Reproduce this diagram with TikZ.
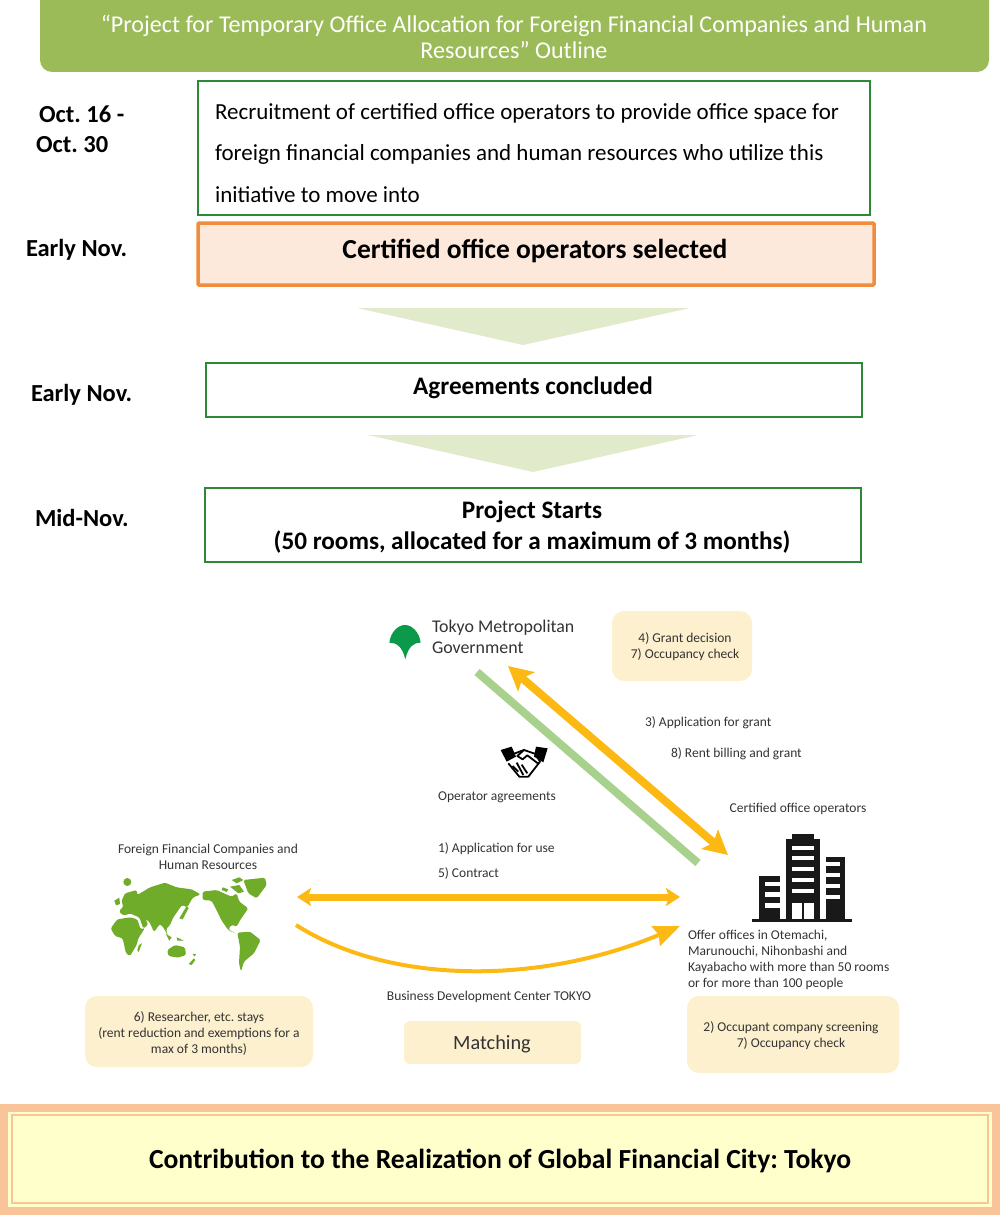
\documentclass[tikz,border=0pt]{standalone}
\usepackage{fontspec}
\setmainfont{Carlito}
\usetikzlibrary{arrows.meta}
\definecolor{titlegreen}{HTML}{9BBB59}
\definecolor{boxgreen}{HTML}{2A8A35}
\definecolor{boxorange}{HTML}{F08C3C}
\definecolor{fillorange}{HTML}{FCE9DC}
\definecolor{fillcream}{HTML}{FDF0CF}
\definecolor{arrowgold}{HTML}{FDB913}
\definecolor{linegreen}{HTML}{A9D18E}
\definecolor{downgreen}{HTML}{E2EACC}
\definecolor{mapgreen}{HTML}{6FAC2A}
\definecolor{leafgreen}{HTML}{0B9A4A}
\definecolor{txtgrey}{HTML}{333333}
\definecolor{outerpeach}{HTML}{F9C49A}
\definecolor{innerlemon}{HTML}{FFFFCC}
\frenchspacing
\begin{document}
\begin{tikzpicture}[x=1pt,y=-1pt]
\tikzset{ >=latex, inner sep=0pt, outer sep=0pt,
  greenbox/.style={draw=boxgreen, line width=1.1pt},
  creambox/.style={fill=fillcream, rounded corners=12pt},
  datetxt/.style={font=\fontsize{24.5}{31}\selectfont\bfseries, anchor=west, align=left},
  headtxt/.style={font=\fontsize{25.2}{31}\selectfont\bfseries, align=center},
  smalltxt/.style={font=\fontsize{13.5}{16}\selectfont, text=txtgrey, align=center},
  goldarrow/.style={draw=arrowgold, line width=8pt},
}
\useasboundingbox (0,0) rectangle (1000,1215);

%%% Blocos

% Title
\fill[titlegreen, rounded corners=12pt] (40,-14) rectangle (989,72);
\node[font=\fontsize{24.1}{26}\selectfont, text=white, align=center] (title) at (514,37)
  {``Project for Temporary Office Allocation for Foreign Financial Companies and Human\\Resources'' Outline};

% Recruitment
\draw[greenbox] (198,81) rectangle (870,215);
\node[font=\fontsize{23}{41.5}\selectfont, anchor=west, align=left] (recruit) at (215,153)
  {Recruitment of certified office operators to provide office space for\\
   foreign financial companies and human resources who utilize this\\
   initiative to move into};
\node[datetxt] (date1a) at (39,114) {Oct. 16 -};
\node[datetxt] (date1b) at (36,145) {Oct. 30};

% Selected
\draw[draw=boxorange, fill=fillorange, line width=3.5pt, rounded corners=1pt] (198,223) rectangle (874,285);
\node[font=\fontsize{27.5}{30}\selectfont\bfseries] (selected) at (535,251) {Certified office operators selected};
\node[datetxt] (date2) at (26,250) {Early Nov.};

\fill[downgreen] (357,308) -- (690,308) -- (523,345) -- cycle;

% Agreements
\draw[greenbox] (206,363) rectangle (862,417);
\node[headtxt] (agreed) at (533,388) {Agreements concluded};
\node[datetxt] (date3) at (31,395) {Early Nov.};

\fill[downgreen] (368,435) -- (698,435) -- (533,472) -- cycle;

% Start
\draw[greenbox] (205,488) rectangle (861,562);
\node[headtxt] (start) at (532,527) {Project Starts\\(50 rooms, allocated for a maximum of 3 months)};
\node[datetxt] (date4) at (35,518) {Mid-Nov.};

%%% Esquema

% Tokyo
\begin{scope}[shift={(370,600)},x=0.3333pt,y=-0.3333pt]
\fill[leafgreen] (58,128) .. controls (62,95) and (85,75) .. (105,75)
  .. controls (125,75) and (148,95) .. (152,128)
  .. controls (130,128) and (115,140) .. (106,178)
  .. controls (97,140) and (80,128) .. (58,128) -- cycle;
\end{scope}
\node[font=\fontsize{17.9}{21}\selectfont, text=txtgrey, anchor=west, align=left] (tokyo) at (432,637)
  {Tokyo Metropolitan\\Government};
\fill[creambox] (612,611) rectangle (752,681);
\node[smalltxt] (tokyochk) at (685,647) {4) Grant decision\\7) Occupancy check};

% Handshake
\begin{scope}[shift={(370,600)},x=0.3333pt,y=-0.3333pt]
\fill[black] (392,450) -- (425,440) -- (438,470) -- (410,485) -- cycle;
\fill[black] (498,440) -- (533,445) -- (520,487) -- (492,470) -- cycle;
\draw[line width=1.8pt, line join=round] (430,462) -- (462,450) -- (497,462) -- (510,485) -- (475,530) -- (448,530) -- (415,490);
\draw[line width=1.8pt, line join=round] (462,450) -- (442,468) -- (458,478) -- (472,466) -- (506,492);
\draw[line width=1.8pt] (428,498) -- (445,515) (440,488) -- (460,525) (455,494) -- (472,520);
\end{scope}
\node[smalltxt] (operagr) at (497,797) {Operator agreements};

% Labels
\node[smalltxt, anchor=west] (grant) at (645,723) {3) Application for grant};
\node[smalltxt, anchor=west] (billing) at (671,754) {8) Rent billing and grant};
\node[smalltxt] (certops) at (798,809) {Certified office operators};
\node[smalltxt, anchor=west] (useapp) at (438,849) {1) Application for use};
\node[smalltxt, anchor=west] (contract) at (438,873) {5) Contract};

% Building
\begin{scope}[shift={(660,820)},x=0.3333pt,y=-0.3333pt]
\fill[black!90] (277,296) rectangle (575,305);
\fill[black!90] (378,58) rectangle (480,296);
\fill[black!90] (395,43) rectangle (462,58);
\fill[black!90] (297,168) rectangle (360,296);
\fill[black!90] (497,110) rectangle (555,296);
\foreach \ya in {77,108,140,174,207} {
  \fill[white] (395,\ya) rectangle (462,\ya+13);
}
\fill[white] (395,250) rectangle (425,296);
\fill[white] (433,250) rectangle (463,296);
\foreach \ya in {185,217,250} {
  \fill[white] (315,\ya) rectangle (360,\ya+14);
}
\foreach \ya in {127,160,193,225} {
  \fill[white] (497,\ya) rectangle (540,\ya+12);
}
\end{scope}
\node[font=\fontsize{13.5}{16}\selectfont, text=txtgrey, anchor=west, align=left] (offer) at (688,960)
  {Offer offices in Otemachi,\\Marunouchi, Nihonbashi and\\Kayabacho with more than 50 rooms\\or for more than 100 people};
\fill[creambox] (687,996) rectangle (899,1073);
\node[smalltxt] (opchk) at (791,1036) {2) Occupant company screening\\7) Occupancy check};

% World
\node[smalltxt] (foreign) at (208,857) {Foreign Financial Companies and\\Human Resources};
\begin{scope}[shift={(80,830)},x=0.3333pt,y=-0.3333pt]
% Eurasia
\fill[mapgreen, rounded corners=1.5pt] (118,240) -- (130,232) -- (125,212) -- (135,190) -- (170,180) -- (172,195)
  -- (210,172) -- (255,158) -- (290,172) -- (335,178) -- (362,193) -- (338,203) -- (322,232) -- (306,225)
  -- (292,245) -- (280,262) -- (270,285) -- (258,298) -- (264,318) -- (250,292) -- (240,282) -- (222,306)
  -- (208,275) -- (196,268) -- (205,283) -- (190,296) -- (178,262) -- (168,258) -- (150,250) -- (135,256)
  -- (122,252) -- cycle;
% Africa
\fill[mapgreen, rounded corners=1.5pt] (92,295) -- (112,268) -- (150,262) -- (172,268) -- (182,298) -- (195,294)
  -- (175,325) -- (170,345) -- (150,378) -- (138,370) -- (128,325) -- (105,318) -- cycle;
% Americas
\fill[mapgreen, rounded corners=1.5pt] (368,185) -- (410,180) -- (432,190) -- (455,200) -- (470,190) -- (478,215)
  -- (505,235) -- (482,268) -- (470,290) -- (455,284) -- (445,298) -- (470,312) -- (445,300) -- (425,272)
  -- (412,245) -- (395,212) -- (368,210) -- cycle;
\fill[mapgreen, rounded corners=1.5pt] (472,308) -- (510,305) -- (542,330) -- (522,370) -- (492,395) -- (483,425)
  -- (477,400) -- (480,350) -- cycle;
% Greenland, Arctic
\fill[mapgreen, rounded corners=1.5pt] (490,150) -- (555,143) -- (560,165) -- (530,205) -- (505,190) -- cycle;
\fill[mapgreen] (455,150) -- (478,142) -- (490,150) -- (470,160) -- cycle;
\fill[mapgreen] (428,172) -- (445,178) -- (440,186) -- (425,180) -- cycle;
\fill[mapgreen] (450,170) -- (478,165) -- (492,185) -- (475,190) -- cycle;
% Australia and islands
\fill[mapgreen, rounded corners=1.5pt] (262,360) -- (285,345) -- (315,352) -- (318,375) -- (295,383) -- (265,378) -- cycle;
\fill[mapgreen] (103,212) -- (118,203) -- (120,222) -- (108,226) -- cycle;
\fill[mapgreen] (177,345) -- (186,340) -- (176,366) -- (172,360) -- cycle;
\fill[mapgreen] (298,265) -- (320,228) -- (326,234) -- (308,268) -- cycle;
\fill[mapgreen] (258,312) -- (275,322) -- (268,332) -- cycle;
\fill[mapgreen] (290,322) -- (312,332) -- (292,332) -- cycle;
\fill[mapgreen] (326,402) -- (342,385) -- (346,390) -- (335,405) -- cycle;
\fill[mapgreen] (338,372) -- (348,372) -- (344,380) -- cycle;
\fill[mapgreen] (142,156) circle (4pt);
\end{scope}
\fill[creambox] (85,996) rectangle (313,1067);
\node[smalltxt] (stays) at (199,1033) {6) Researcher, etc. stays\\(rent reduction and exemptions for a\\max of 3 months)};

% Matching
\node[smalltxt] (bizcenter) at (489,997) {Business Development Center TOKYO};
\fill[creambox, rounded corners=6pt] (404,1021) rectangle (581,1064);
\node[font=\fontsize{20.3}{23}\selectfont, text=txtgrey] (matching) at (492,1044) {Matching};

% Bottom
\fill[outerpeach] (0,1104) rectangle (1000,1215);
\fill[innerlemon] (8,1112) rectangle (992,1207);
\draw[draw=outerpeach, line width=2.2pt] (12,1115) rectangle (988,1203);
\node[font=\fontsize{27.6}{30}\selectfont\bfseries] (contrib) at (500,1161) {Contribution to the Realization of Global Financial City: Tokyo};

%%% Linhas

\coordinate (TMGa) at (477,672);
\coordinate (OPa) at (698,863);
\coordinate (TMGb) at (508,666);
\coordinate (OPb) at (728,855);
\coordinate (FCa) at (297,897);
\coordinate (OPc) at (680,897);
\coordinate (FCb) at (296,925);
\coordinate (OPd) at (680,926);

% Operator agreements
\draw[draw=linegreen, line width=8pt] (TMGa) -- (OPa);

% Grant
\draw[goldarrow, {Stealth[length=24pt,width=25pt,inset=5pt]}-{Stealth[length=24pt,width=25pt,inset=5pt]}] (TMGb) -- (OPb);

% Application
\draw[goldarrow, line width=7pt, {Stealth[length=14pt,width=18pt,inset=3pt]}-{Stealth[length=14pt,width=18pt,inset=3pt]}] (FCa) -- (OPc);

% Matching curve
\draw[draw=arrowgold, line width=4pt, -{Stealth[length=26pt,width=21pt,inset=3pt]}] (FCb) .. controls (390,985) and (540,985) .. (OPd);

\end{tikzpicture}
\end{document}
